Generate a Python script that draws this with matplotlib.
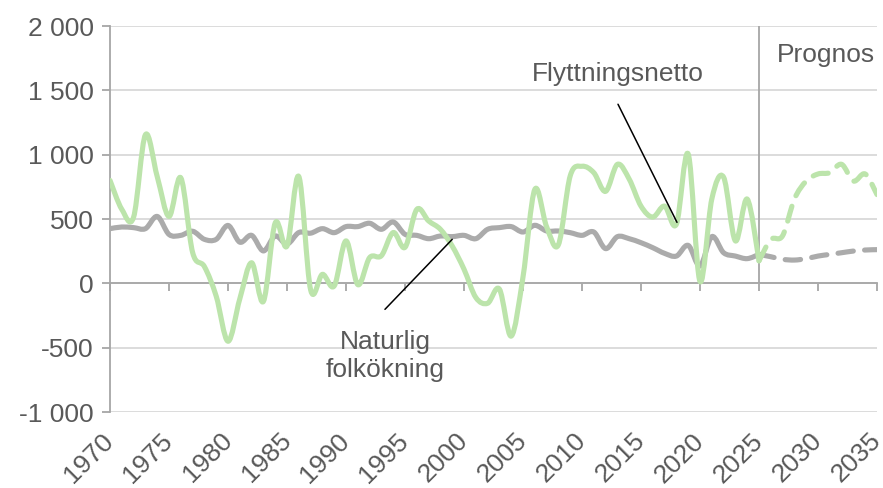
import matplotlib
matplotlib.use("Agg")
import matplotlib.pyplot as plt
from matplotlib.path import Path
from matplotlib.patches import PathPatch
from matplotlib.ticker import FuncFormatter

plt.rcParams['font.family'] = ['Liberation Sans', 'DejaVu Sans']
plt.rcParams['axes.unicode_minus'] = False

# Historical data
years = list(range(1970, 2026))
net_migration = [800, 575, 515, 1155, 830, 520, 820, 240, 130, -100,
                 -450, -120, 160, -140, 470, 290, 830, -50, 70, -20,
                 330, -10, 200, 215, 395, 280, 575, 485, 420, 290,
                 110, -110, -155, -45, -410, 50, 730, 440, 300, 835,
                 910, 860, 715, 925, 810, 600, 515, 600, 460, 1005,
                 15, 655, 825, 330, 655, 175]
natural_increase = [425, 438, 433, 425, 520, 380, 373, 405, 342, 342,
                    450, 320, 373, 252, 368, 305, 395, 390, 425, 394,
                    441, 441, 467, 420, 477, 381, 373, 347, 368, 363,
                    373, 347, 420, 433, 441, 399, 451, 407, 407, 394,
                    373, 399, 270, 363, 347, 316, 277, 233, 212, 295,
                    135, 363, 238, 212, 192, 225]

# Forecast (Prognos)
forecast_years = list(range(2025, 2036))
net_migration_fc = [175, 340, 370, 655, 795, 850, 860, 925, 795, 850, 690]
natural_increase_fc = [225, 207, 187, 181, 192, 212, 225, 238, 251, 259, 262]

forecast_start = 2025
xtick_years = list(range(1970, 2036, 5))
yticks = list(range(-1000, 2001, 500))

green = '#bce4ab'
grey = '#ababab'
axis_col = '#a6a6a6'
grid_col = '#d9d9d9'
text_col = '#595959'


def smooth_path(x, y):
    # Excel-style smoothed line: cubic Bezier segments through each point
    verts = [(x[0], y[0])]
    codes = [Path.MOVETO]
    n = len(x)
    for i in range(n - 1):
        x0, y0 = (x[i - 1], y[i - 1]) if i > 0 else (x[i], y[i])
        x3, y3 = (x[i + 2], y[i + 2]) if i + 2 < n else (x[i + 1], y[i + 1])
        c1 = (x[i] + (x[i + 1] - x0) / 6, y[i] + (y[i + 1] - y0) / 6)
        c2 = (x[i + 1] - (x3 - x[i]) / 6, y[i + 1] - (y3 - y[i]) / 6)
        verts += [c1, c2, (x[i + 1], y[i + 1])]
        codes += [Path.CURVE4] * 3
    return Path(verts, codes)


fig = plt.figure(figsize=(8.83, 4.88), dpi=100)
ax = fig.add_axes([0.1246, 0.1557, 0.8686, 0.791])

ax.set_xlim(1970, 2035)
ax.set_ylim(-1000, 2000)

lw = 3.7
dash = (0, (3.0, 2.2))
for xs, ys, col, ls in [(years, natural_increase, grey, '-'),
                        (forecast_years, natural_increase_fc, grey, dash),
                        (years, net_migration, green, '-'),
                        (forecast_years, net_migration_fc, green, dash)]:
    ax.add_patch(PathPatch(smooth_path(xs, ys), fill=False, edgecolor=col,
                           lw=lw, linestyle=ls, capstyle='round',
                           joinstyle='round', zorder=3))

# Forecast divider
ax.vlines(forecast_start, 0, 2000, color=axis_col, lw=1.3, zorder=2)

# Gridlines and axes
ax.set_yticks(yticks)
ax.yaxis.set_major_formatter(FuncFormatter(lambda v, p: f"{int(v):,}".replace(",", " ")))
ax.grid(axis='y', color=grid_col, lw=1.3, zorder=0)
ax.set_axisbelow(True)
for s in ['top', 'right']:
    ax.spines[s].set_visible(False)
ax.spines['left'].set_color(axis_col)
ax.spines['left'].set_linewidth(1.3)
ax.spines['bottom'].set_position(('data', 0))
ax.spines['bottom'].set_color(axis_col)
ax.spines['bottom'].set_linewidth(1.3)
ax.spines['bottom'].set_zorder(2)

ax.tick_params(axis='y', direction='out', length=5.8, width=1.3, color=axis_col,
               labelsize=19, labelcolor=text_col, pad=6)
ax.set_xticks(xtick_years)
ax.tick_params(axis='x', direction='out', length=5.8, width=1.3, color=axis_col,
               labelbottom=False)

sec = ax.secondary_xaxis(0)
sec.set_xticks(xtick_years)
sec.set_xticklabels([str(y) for y in xtick_years], rotation=45, ha='right',
                    va='center', rotation_mode='anchor')
sec.tick_params(axis='x', length=0, labelsize=19, labelcolor=text_col, pad=18)
sec.spines['bottom'].set_visible(False)

# Annotations
ax.text(2013.0, 1571, 'Flyttningsnetto', ha='center', va='baseline',
        fontsize=19, color=text_col)
ax.annotate('', xy=(2018.05, 474), xytext=(2013.05, 1392),
            arrowprops=dict(arrowstyle='-', color='black', lw=1.1,
                            shrinkA=0, shrinkB=0), zorder=4)
ax.annotate('', xy=(1999.0, 342), xytext=(1993.3, -202),
            arrowprops=dict(arrowstyle='-', color='black', lw=1.1,
                            shrinkA=0, shrinkB=0), zorder=4)
ax.text(1993.3, -565, 'Naturlig\nfolkökning', ha='center', va='center',
        fontsize=19, color=text_col, linespacing=1.25)
ax.text(2030.7, 1718, 'Prognos', ha='center', va='baseline',
        fontsize=19, color=text_col)

fig.savefig('out.png', dpi=100)
